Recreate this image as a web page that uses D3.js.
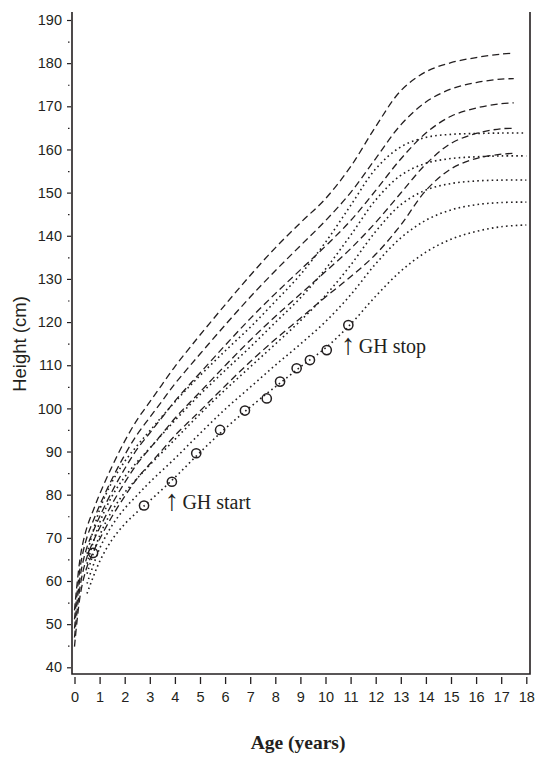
<!DOCTYPE html>
<html>
<head>
<meta charset="utf-8">
<script src="https://cdn.jsdelivr.net/npm/d3@7"></script>
<style>
  html, body { margin: 0; padding: 0; background: #fff; }
  svg { display: block; }
</style>
</head>
<body>
<svg id="chart" width="536" height="757"></svg>
<script>
// ---------- data ----------
// reference (dashed) curves: ages in years, heights in cm
const dashAges = [0,0.25,0.5,0.75,1,1.5,2,2.5,3,3.5,4,4.5,5,6,7,8,9,10,11,12,13,14,15,16,17,17.5];
const dashPlus2  = [53.2,66.3,72.5,76.4,80.1,86.6,92.4,97.4,101.5,105.6,109.7,113.4,117.0,124.0,130.8,137.2,143.0,148.6,156.0,165.3,173.6,178.0,180.1,181.3,182.1,182.3];
const dashPlus1  = [51.1,64.1,70.2,74.0,77.5,83.7,89.2,94.0,97.9,101.8,105.7,109.2,112.6,119.3,125.8,131.9,137.7,143.5,150.0,157.9,165.7,171.0,174.0,175.5,176.3,176.4];
const dashMean   = [49.0,61.9,67.9,71.6,74.9,80.8,86.0,90.6,94.3,98.0,101.7,105.0,108.2,114.6,120.8,126.6,132.1,137.6,143.5,150.5,157.8,163.8,167.7,169.6,170.6,170.8];
const dashMinus1 = [46.9,59.7,65.6,69.2,72.3,77.9,82.8,87.2,90.7,94.2,97.7,100.8,103.8,109.9,115.8,121.3,126.5,131.7,137.0,143.1,149.9,156.6,161.4,163.7,164.8,164.9];
const dashMinus2 = [44.8,57.5,63.3,66.8,69.7,75.0,79.6,83.8,87.1,90.4,93.7,96.6,99.4,105.2,110.8,116.0,120.9,125.8,130.5,135.7,142.5,150.5,155.5,157.9,158.9,159.1];

// reference (dotted) curves
const dotAges = [0.5,1,1.5,2,2.5,3,4,5,6,7,8,9,10,11,12,13,14,15,16,17,18];
const dot1 = [66.3,76.5,83.0,87.7,91.4,94.8,101.5,107.6,113.3,118.8,124.8,131.0,138.5,147.0,155.5,160.6,162.8,163.5,163.7,163.8,163.8];
const dot2 = [64.0,73.5,79.7,84.1,87.6,90.8,97.2,103.2,108.8,114.2,119.9,125.6,132.3,140.1,148.3,154.0,156.8,157.9,158.3,158.5,158.5];
const dot3 = [61.7,70.5,76.3,80.5,83.8,86.9,92.8,98.7,104.3,109.6,114.9,120.3,126.2,133.2,141.0,147.2,150.6,152.1,152.7,152.9,152.9];
const dot4 = [59.4,67.5,72.9,76.8,79.9,82.9,88.4,94.2,99.8,104.9,110.0,114.9,120.1,126.3,133.5,139.5,143.6,146.0,147.2,147.7,147.8];
const dot5 = [57.1,64.5,69.6,73.2,76.0,78.6,84.0,89.8,95.3,100.3,105.0,109.6,114.0,119.5,126.0,131.8,136.2,139.2,141.0,142.1,142.5];

// patient measurements
const patientAges    = [0.74,2.77,3.88,4.85,5.80,6.79,7.66,8.19,8.85,9.38,10.05,10.91];
const patientHeights = [66.5,77.5,83.0,89.6,95.0,99.5,102.3,106.2,109.3,111.2,113.5,119.3];

// axes
const xTickValues = [0,1,2,3,4,5,6,7,8,9,10,11,12,13,14,15,16,17,18];
const yTickValues = [40,50,60,70,80,90,100,110,120,130,140,150,160,170,180,190];
const yMinorValues = [45,55,65,75,85,95,105,115,125,135,145,155,165,175,185];

// annotations (arrow placed at age/height, label follows)
const notes = [
  {label: "GH start", age: 3.86, height: 76.7},
  {label: "GH stop",  age: 10.89, height: 112.8}
];

// ---------- drawing ----------
const ink = "#231f20";
const svg = d3.select("#chart");

const x = d3.scaleLinear().domain([0, 18]).range([74.5, 526.3]);
const y = d3.scaleLinear().domain([40, 190]).range([667.3, 20]);

const plotLeft = 72, plotRight = 530, plotTop = 12, plotBottom = 674;

// frame: left, bottom, right
svg.append("path")
  .attr("d", `M${plotLeft},${plotTop}V${plotBottom}H${plotRight}V${plotTop}`)
  .attr("fill", "none").attr("stroke", ink).attr("stroke-width", 1.6);

// y axis ticks
const yAxis = d3.axisLeft(y).tickValues(yTickValues).tickSize(4).tickPadding(5).tickFormat(d3.format("d"));
const gy = svg.append("g").attr("transform", `translate(${plotLeft - 1},0)`).call(yAxis);
gy.select(".domain").remove();
gy.selectAll(".tick line").attr("stroke", ink).attr("stroke-width", 1.2);
gy.selectAll(".tick text").attr("fill", ink)
  .style("font-family", "'Liberation Sans', Arial, sans-serif").style("font-size", "14.5px");

const yMinor = d3.axisLeft(y).tickValues(yMinorValues).tickSize(1.5).tickFormat("");
const gym = svg.append("g").attr("transform", `translate(${plotLeft - 2.5},0)`).call(yMinor);
gym.select(".domain").remove();
gym.selectAll(".tick line").attr("stroke", ink).attr("stroke-width", 1.2);

// x axis ticks (detached from the frame)
const xAxis = d3.axisBottom(x).tickValues(xTickValues).tickSize(7).tickPadding(8).tickFormat(d3.format("d"));
const gx = svg.append("g").attr("transform", `translate(0,${plotBottom + 3})`).call(xAxis);
gx.select(".domain").remove();
gx.selectAll(".tick line").attr("stroke", ink).attr("stroke-width", 1.3);
gx.selectAll(".tick text").attr("fill", ink)
  .style("font-family", "'Liberation Sans', Arial, sans-serif").style("font-size", "14.5px");

// axis titles
svg.append("text")
  .attr("transform", "translate(26,344) rotate(-90)")
  .attr("text-anchor", "middle")
  .attr("fill", ink)
  .style("font-family", "'Liberation Sans', Arial, sans-serif").style("font-size", "18.5px")
  .text("Height (cm)");

svg.append("text")
  .attr("x", 298).attr("y", 749)
  .attr("text-anchor", "middle")
  .attr("fill", ink)
  .style("font-family", "'Liberation Serif', 'Times New Roman', serif").style("font-size", "19.5px")
  .style("font-weight", "bold")
  .text("Age (years)");

// curves
const line = d3.line().x(d => x(d[0])).y(d => y(d[1])).curve(d3.curveCatmullRom.alpha(0.5));

const dashSeries = [dashPlus2, dashPlus1, dashMean, dashMinus1, dashMinus2];
const dotSeries = [dot1, dot2, dot3, dot4, dot5];

svg.append("g").selectAll("path.dot")
  .data(dotSeries).join("path")
  .attr("class", "dot")
  .attr("d", vals => line(dotAges.map((a, i) => [a, vals[i]])))
  .attr("fill", "none").attr("stroke", ink).attr("stroke-width", 1.6)
  .attr("stroke-dasharray", "1.6,3.2");

svg.append("g").selectAll("path.dash")
  .data(dashSeries).join("path")
  .attr("class", "dash")
  .attr("d", vals => line(dashAges.map((a, i) => [a, vals[i]])))
  .attr("fill", "none").attr("stroke", ink).attr("stroke-width", 1.3)
  .attr("stroke-dasharray", "7,4");

// patient points
svg.append("g").selectAll("circle")
  .data(patientAges.map((a, i) => [a, patientHeights[i]])).join("circle")
  .attr("cx", d => x(d[0])).attr("cy", d => y(d[1])).attr("r", 4.6)
  .attr("fill", "none").attr("stroke", ink).attr("stroke-width", 1.5);

// annotations
const ann = svg.append("g").selectAll("text")
  .data(notes).join("text")
  .attr("fill", ink)
  .style("font-family", "'Liberation Serif', 'Times New Roman', serif");
ann.append("tspan")
  .attr("x", d => x(d.age) - 7).attr("y", d => y(d.height) + 1)
  .style("font-size", "29px")
  .text("↑");
ann.append("tspan")
  .attr("x", d => x(d.age) + 11).attr("y", d => y(d.height))
  .style("font-size", "20px")
  .text(d => d.label);
</script>
</body>
</html>
